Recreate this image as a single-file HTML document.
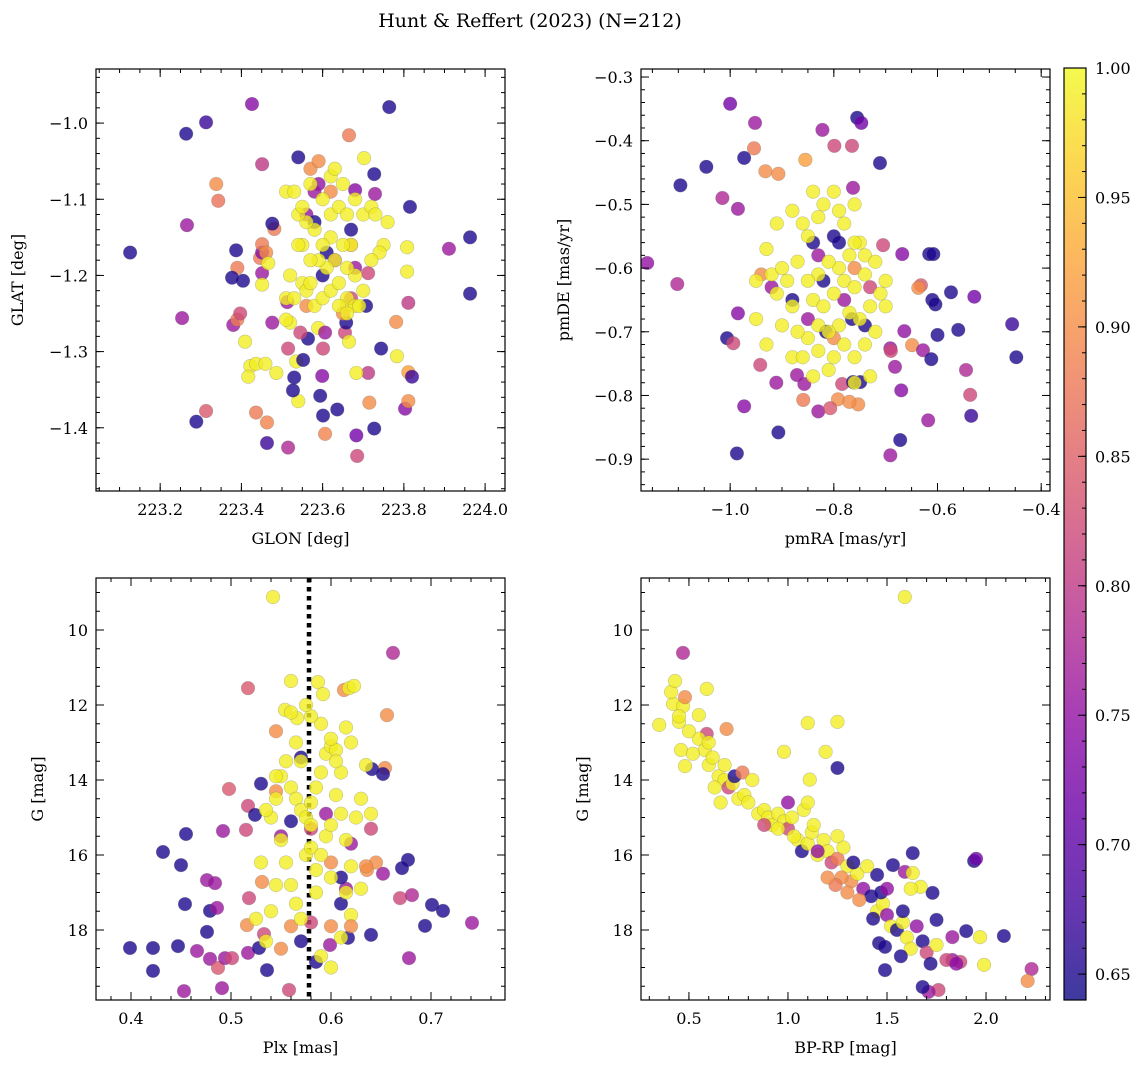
<!DOCTYPE html>
<html><head><meta charset="utf-8">
<style>
html,body{margin:0;padding:0;background:#fff;}
svg{display:block;font-family:"DejaVu Serif","Liberation Serif",serif;}
</style></head>
<body>
<svg id="fig" width="1148" height="1068" viewBox="0 0 1148 1068" xmlns="http://www.w3.org/2000/svg">
<text x="530" y="27" font-size="19" text-anchor="middle">Hunt &amp; Reffert (2023) (N=212)</text>
</svg>
<script>
// ---- data (x, y, membership probability) ----
const glonGlat = [
[223.126,-1.170,.65],[223.426,-0.975,.74],[223.264,-1.014,.65],[223.313,-0.999,.67],[223.764,-0.979,.65],[223.665,-1.016,.88],[223.338,-1.080,.90],[223.343,-1.102,.87],[223.451,-1.054,.80],[223.540,-1.045,.65],[223.266,-1.134,.76],[223.815,-1.110,.65],[223.963,-1.150,.65],[223.911,-1.165,.76],[223.963,-1.224,.65],[223.254,-1.256,.76],[223.313,-1.378,.84],[223.289,-1.392,.65],[223.436,-1.380,.88],[223.463,-1.420,.67],[223.463,-1.393,.89],[223.515,-1.426,.78],[223.606,-1.408,.89],[223.601,-1.384,.65],[223.636,-1.376,.65],[223.685,-1.437,.82],[223.683,-1.410,.72],[223.727,-1.401,.65],[223.594,-1.358,.65],[223.715,-1.367,.90],[223.712,-1.328,.80],[223.803,-1.375,.74],[223.811,-1.365,.90],[223.811,-1.327,.92],[223.820,-1.333,.67],[223.783,-1.306,.99],[223.781,-1.261,.90],[223.811,-1.236,.80],[223.808,-1.195,.99],[223.808,-1.163,.99],[223.727,-1.067,.65],[223.702,-1.046,.99],[223.729,-1.093,.76],[223.680,-1.088,.74],
[223.404,-1.207,.65],[223.380,-1.265,.76],[223.390,-1.258,.88],[223.397,-1.250,.82],[223.409,-1.287,.99],[223.422,-1.319,.99],[223.417,-1.333,.99],[223.436,-1.316,.99],[223.459,-1.316,.99],[223.486,-1.328,.99],[223.540,-1.365,.99],[223.387,-1.167,.65],[223.390,-1.190,.88],[223.377,-1.203,.65],[223.446,-1.177,.88],[223.451,-1.170,.74],[223.451,-1.197,.76],[223.481,-1.139,.88],[223.476,-1.132,.65],[223.451,-1.159,.88],[223.461,-1.170,.90],[223.466,-1.184,.99],[223.451,-1.212,.99],[223.476,-1.262,.76],[223.513,-1.235,.76],[223.520,-1.262,.99],[223.510,-1.258,.99],[223.515,-1.296,.82],[223.535,-1.313,.99],[223.530,-1.334,.65],[223.527,-1.351,.65],[223.552,-1.311,.65],[223.601,-1.296,.82],[223.599,-1.332,.74],[223.564,-1.283,.65],[223.545,-1.275,.82],[223.589,-1.269,.99],[223.606,-1.275,.76],[223.655,-1.275,.82],[223.658,-1.262,.65],[223.660,-1.239,.99],[223.665,-1.287,.99],[223.683,-1.328,.99],[223.707,-1.240,.65],[223.744,-1.296,.65],[223.712,-1.197,.82],
[223.56,-1.12,.75],[223.58,-1.13,.65],[223.60,-1.20,.65],[223.61,-1.17,.65],[223.63,-1.18,.75],[223.67,-1.14,.65],[223.68,-1.19,.76],[223.62,-1.09,.9],[223.59,-1.08,.75],[223.56,-1.24,.9],[223.65,-1.25,.9],[223.67,-1.23,.82],[223.58,-1.09,.76],[223.57,-1.06,.9],[223.59,-1.05,.9],[223.67,-1.16,.9],
[223.51,-1.09,.99],[223.53,-1.09,.99],[223.57,-1.08,.99],[223.62,-1.07,.99],[223.63,-1.06,.99],[223.65,-1.08,.99],[223.60,-1.10,.99],[223.62,-1.12,.99],[223.64,-1.11,.99],[223.66,-1.12,.99],[223.68,-1.10,.99],[223.70,-1.12,.99],[223.72,-1.11,.99],[223.73,-1.12,.99],[223.76,-1.13,.99],[223.75,-1.16,.99],[223.74,-1.17,.99],[223.72,-1.18,.99],[223.68,-1.20,.99],[223.66,-1.19,.99],[223.63,-1.18,.99],[223.61,-1.19,.99],[223.59,-1.18,.99],[223.57,-1.18,.99],[223.55,-1.16,.99],[223.54,-1.16,.99],[223.55,-1.21,.99],[223.56,-1.22,.99],[223.57,-1.21,.99],[223.58,-1.24,.99],[223.60,-1.23,.99],[223.62,-1.22,.99],[223.64,-1.21,.99],[223.66,-1.23,.99],[223.68,-1.24,.99],[223.69,-1.24,.99],[223.70,-1.22,.99],[223.67,-1.16,.99],[223.65,-1.16,.99],[223.62,-1.15,.99],[223.60,-1.16,.99],[223.58,-1.14,.99],[223.56,-1.13,.99],[223.54,-1.12,.99],[223.52,-1.20,.99],[223.51,-1.23,.99],[223.53,-1.23,.99],[223.64,-1.24,.99],[223.66,-1.25,.99],[223.55,-1.11,.99]
];
const pmraPmde = [
[-1.160,-0.592,.75],[-1.096,-0.470,.65],[-1.046,-0.441,.65],[-1.102,-0.625,.78],[-1.0,-0.342,.72],[-0.973,-0.427,.65],[-0.952,-0.372,.76],[-0.954,-0.412,.88],[-0.985,-0.507,.76],[-1.015,-0.490,.78],[-0.932,-0.448,.90],[-0.907,-0.452,.90],[-0.985,-0.671,.74],[-1.006,-0.710,.65],[-0.994,-0.718,.82],[-0.973,-0.817,.74],[-0.987,-0.891,.65],[-0.907,-0.858,.65],[-0.855,-0.430,.92],[-0.822,-0.383,.76],[-0.755,-0.364,.65],[-0.747,-0.372,.72],[-0.799,-0.408,.82],[-0.765,-0.408,.82],[-0.763,-0.474,.76],[-0.711,-0.435,.65],[-0.705,-0.564,.82],[-0.668,-0.578,.74],[-0.616,-0.578,.65],[-0.608,-0.578,.65],[-0.632,-0.627,.84],[-0.637,-0.631,.90],[-0.610,-0.650,.65],[-0.604,-0.657,.65],[-0.574,-0.638,.65],[-0.529,-0.645,.72],[-0.664,-0.699,.75],[-0.600,-0.705,.65],[-0.560,-0.697,.65],[-0.649,-0.721,.90],[-0.691,-0.726,.76],[-0.628,-0.729,.76],[-0.682,-0.755,.76],[-0.612,-0.743,.65],[-0.545,-0.760,.78],[-0.537,-0.799,.82],[-0.670,-0.792,.74],[-0.618,-0.839,.76],[-0.672,-0.870,.65],[-0.691,-0.894,.76],[-0.535,-0.832,.67],[-0.456,-0.688,.67],[-0.448,-0.740,.65],[-0.749,-0.779,.65],[-0.753,-0.814,.90],[-0.792,-0.806,.90],[-0.859,-0.807,.88],[-0.830,-0.825,.76],[-0.807,-0.820,.84],[-0.857,-0.782,.76],[-0.911,-0.780,.76],[-0.871,-0.768,.76],[-0.942,-0.752,.82],[-0.784,-0.782,.82],[-0.815,-0.700,.65],[-0.765,-0.680,.65],[-0.763,-0.779,.65],
[-0.84,-0.56,.65],[-0.80,-0.55,.65],[-0.79,-0.56,.65],[-0.88,-0.65,.65],[-0.85,-0.68,.76],[-0.80,-0.71,.9],[-0.76,-0.60,.9],[-0.73,-0.63,.82],[-0.78,-0.65,.76],[-0.92,-0.63,.76],[-0.94,-0.61,.9],[-0.83,-0.58,.76],[-0.74,-0.69,.65],[-0.82,-0.62,.65],[-0.77,-0.81,.9],[-0.69,-0.73,.82],
[-0.93,-0.57,.99],[-0.92,-0.61,.99],[-0.90,-0.60,.99],[-0.91,-0.64,.99],[-0.89,-0.62,.99],[-0.87,-0.59,.99],[-0.86,-0.53,.99],[-0.85,-0.55,.99],[-0.83,-0.52,.99],[-0.82,-0.50,.99],[-0.80,-0.48,.99],[-0.79,-0.51,.99],[-0.78,-0.53,.99],[-0.76,-0.50,.99],[-0.75,-0.56,.99],[-0.74,-0.58,.99],[-0.77,-0.58,.99],[-0.79,-0.60,.99],[-0.81,-0.59,.99],[-0.83,-0.61,.99],[-0.85,-0.62,.99],[-0.84,-0.65,.99],[-0.82,-0.66,.99],[-0.80,-0.64,.99],[-0.78,-0.62,.99],[-0.76,-0.63,.99],[-0.74,-0.61,.99],[-0.72,-0.59,.99],[-0.71,-0.64,.99],[-0.73,-0.66,.99],[-0.75,-0.68,.99],[-0.77,-0.67,.99],[-0.79,-0.69,.99],[-0.81,-0.70,.99],[-0.83,-0.69,.99],[-0.85,-0.71,.99],[-0.87,-0.70,.99],[-0.88,-0.74,.99],[-0.86,-0.74,.99],[-0.83,-0.73,.99],[-0.80,-0.74,.99],[-0.78,-0.72,.99],[-0.76,-0.74,.99],[-0.74,-0.72,.99],[-0.72,-0.70,.99],[-0.70,-0.66,.99],[-0.70,-0.62,.99],[-0.73,-0.77,.99],[-0.76,-0.78,.99],[-0.81,-0.76,.99],[-0.84,-0.77,.99],[-0.88,-0.66,.99],[-0.90,-0.69,.99],[-0.93,-0.72,.99],[-0.95,-0.68,.99],[-0.95,-0.62,.99],[-0.91,-0.53,.99],[-0.88,-0.51,.99],[-0.84,-0.48,.99],[-0.76,-0.56,.99]
];
const plxG = [
[0.399,18.48,.65],[0.422,18.48,.65],[0.422,19.09,.65],[0.447,18.43,.65],[0.432,15.92,.65],[0.455,15.44,.65],[0.450,16.27,.65],[0.454,17.31,.65],[0.453,19.63,.76],[0.466,18.56,.76],[0.479,17.49,.65],[0.476,16.67,.76],[0.479,18.77,.76],[0.476,18.05,.65],[0.487,19.01,.84],[0.494,18.75,.76],[0.491,19.55,.76],[0.484,16.75,.76],[0.486,17.41,.76],[0.501,18.75,.82],[0.492,15.36,.76],[0.498,14.24,.84],[0.515,15.33,.82],[0.517,14.69,.82],[0.517,11.55,.84],[0.524,14.93,.65],[0.518,17.15,.82],[0.516,17.87,.9],[0.517,18.61,.76],[0.528,18.48,.65],[0.533,18.11,.82],[0.536,19.07,.65],[0.558,19.60,.82],[0.531,16.72,.9],[0.542,9.12,.99],[0.554,12.13,.99],[0.560,11.36,.99],[0.566,12.35,.99],[0.587,11.39,.99],[0.592,11.71,.99],[0.613,11.60,.9],[0.618,11.55,.99],[0.623,11.49,.99],[0.656,12.27,.9],[0.654,13.68,.9],[0.662,10.61,.78],[0.641,13.71,.65],[0.652,13.84,.65],[0.677,16.13,.65],[0.671,16.35,.65],[0.669,17.15,.82],[0.681,17.07,.78],[0.678,18.75,.76],[0.701,17.33,.65],[0.694,17.89,.65],[0.712,17.49,.65],[0.741,17.81,.76],[0.640,18.13,.65],[0.617,18.21,.65],[0.599,18.40,.76],[0.585,18.85,.65],[0.610,17.30,.65],[0.615,16.90,.76],[0.652,16.50,.76],[0.645,16.20,.9],[0.636,16.40,.9],
[0.57,13.4,.65],[0.56,15.1,.65],[0.55,15.5,.76],[0.58,15.3,.82],[0.595,14.9,.76],[0.60,16.2,.9],[0.61,16.6,.65],[0.58,17.8,.82],[0.57,18.3,.65],[0.55,18.5,.9],[0.60,17.9,.9],[0.53,14.1,.65],[0.545,14.3,.9],[0.62,15.7,.76],[0.635,16.3,.9],[0.64,15.3,.82],[0.545,12.7,.9],[0.56,17.9,.9],
[0.55,13.9,.99],[0.56,14.2,.99],[0.565,14.5,.99],[0.57,14.8,.99],[0.575,15.0,.99],[0.58,14.6,.99],[0.585,14.2,.99],[0.59,13.8,.99],[0.595,13.3,.99],[0.60,13.1,.99],[0.605,13.2,.99],[0.61,13.8,.99],[0.615,12.6,.99],[0.62,13.0,.99],[0.60,12.9,.99],[0.59,12.5,.99],[0.58,12.3,.99],[0.575,12.0,.99],[0.565,13.0,.99],[0.555,13.5,.99],[0.545,14.5,.99],[0.54,15.0,.99],[0.535,14.8,.99],[0.55,15.6,.99],[0.555,16.2,.99],[0.56,16.8,.99],[0.565,17.3,.99],[0.57,17.7,.99],[0.575,16.0,.99],[0.58,15.8,.99],[0.585,16.4,.99],[0.59,16.0,.99],[0.595,15.5,.99],[0.60,15.2,.99],[0.605,14.4,.99],[0.61,14.9,.99],[0.615,15.6,.99],[0.62,16.3,.99],[0.625,15.0,.99],[0.63,14.5,.99],[0.635,13.6,.99],[0.64,14.9,.99],[0.63,16.9,.99],[0.62,17.6,.99],[0.61,18.2,.99],[0.585,17.0,.99],[0.59,18.7,.99],[0.56,12.2,.99],[0.545,16.8,.99],[0.54,17.5,.99],[0.53,16.2,.99],[0.525,17.7,.99],[0.57,13.5,.99],[0.58,15.2,.99],[0.60,16.6,.99],[0.615,17.0,.99],[0.605,13.5,.99],[0.545,13.9,.99],[0.535,18.3,.99],[0.60,19.0,.99],[0.62,17.9,.9]
];
const bprpG = [
[0.35,12.53,.99],[0.42,11.97,.99],[0.41,11.65,.99],[0.43,11.36,.99],[0.47,12.03,.99],[0.48,11.79,.9],[0.47,10.61,.78],[0.45,12.45,.99],[0.46,13.20,.99],[0.48,13.63,.99],[0.59,11.57,.99],[0.55,12.27,.99],[0.59,12.77,.82],[0.69,12.64,.9],[1.10,12.48,.99],[1.11,13.99,.99],[1.19,13.25,.99],[1.25,12.45,.99],[1.25,13.68,.65],[0.98,13.25,.99],[1.59,9.12,.99],
[1.94,16.16,.65],[1.95,16.10,.72],[2.09,18.16,.65],[2.23,19.04,.78],[2.21,19.36,.9],[1.99,18.93,.99],[1.97,18.19,.99],[1.90,18.03,.65],[1.87,18.85,.82],[1.83,18.80,.76],[1.76,19.60,.82],[1.71,19.65,.76],[1.68,19.52,.65],[1.83,18.19,.76],[1.75,17.73,.65],[1.73,17.01,.65],[1.63,15.95,.65],[1.59,16.45,.76],[1.67,16.85,.99],[1.63,16.48,.99],[1.53,16.27,.65],[1.45,16.53,.65],[1.46,18.35,.65],[1.49,18.45,.65],[1.49,19.07,.65],
[0.55,12.9,.99],[0.58,13.2,.99],[0.60,13.6,.99],[0.62,13.4,.99],[0.65,13.9,.99],[0.68,14.0,.99],[0.70,14.2,.82],[0.72,14.1,.99],[0.75,14.5,.99],[0.78,14.4,.99],[0.80,14.6,.99],[0.73,13.9,.65],[0.77,13.8,.88],[0.85,14.9,.99],[0.88,14.8,.99],[0.90,15.0,.99],[0.92,15.2,.99],[0.95,14.9,.99],[0.98,15.1,.99],[1.00,15.3,.82],[1.02,15.0,.99],[1.05,15.6,.99],[1.07,15.9,.65],[1.10,15.7,.99],[1.12,15.4,.99],[1.15,16.0,.99],[1.18,15.6,.99],[1.20,15.9,.99],[1.22,16.2,.82],[1.25,16.1,.88],[1.28,15.8,.99],[1.30,16.3,.99],[1.32,16.7,.9],[1.35,16.5,.99],[1.38,16.9,.75],[1.40,16.3,.99],[1.42,17.1,.65],[1.45,17.5,.99],[1.48,17.3,.99],[1.50,17.6,.75],[1.52,17.9,.99],[1.55,18.0,.65],[1.58,17.8,.99],[1.60,18.2,.99],[1.62,18.5,.99],[1.65,17.9,.75],[1.68,18.3,.65],[1.70,18.6,.82],[1.72,18.9,.65],[1.75,18.4,.99],[1.80,18.8,.82],[1.85,18.9,.75],[1.27,16.6,.9],[1.24,16.8,.88],[1.20,16.6,.9],[1.13,15.2,.99],[1.08,14.8,.99],[0.95,15.3,.99],[0.88,15.2,.82],[1.00,14.6,.75],[1.03,15.5,.99],[1.15,15.9,.75],[1.33,16.2,.65],[1.36,17.2,.9],[1.30,17.0,.9],[1.47,17.0,.65],[1.50,16.9,.75],[1.43,17.7,.65],[1.58,17.5,.65],[1.62,16.9,.99],[1.57,18.7,.65],[1.25,15.5,.99],[1.10,14.6,.99],[0.82,14.0,.99],[0.68,13.6,.99],[0.60,13.0,.99],[0.50,12.7,.99],[0.45,12.3,.99],[0.52,13.3,.99],[0.63,14.2,.99],[0.66,14.6,.99]
];
// tick labels
const glonTicks = [223.2,223.4,223.6,223.8,224.0];
const glatTicks = [-1.0,-1.1,-1.2,-1.3,-1.4];
const pmraTicks = [-1.0,-0.8,-0.6,-0.4];
const pmdeTicks = [-0.3,-0.4,-0.5,-0.6,-0.7,-0.8,-0.9];
const plxTicks = [0.4,0.5,0.6,0.7];
const bprpTicks = [0.5,1.0,1.5,2.0];
const gTicks = [10,12,14,16,18];
const colorTicks = [0.65,0.70,0.75,0.80,0.85,0.90,0.95,1.00];
const plxMedian = 0.578;
const vmin = 0.640, vmax = 1.0;

const NS = "http://www.w3.org/2000/svg";
const svg = document.getElementById('fig');
function mk(tag, attrs, parent){ const e=document.createElementNS(NS,tag); for(const k in attrs) e.setAttribute(k,attrs[k]); (parent||svg).appendChild(e); return e; }

const stops=[[0,[13,8,135]],[.1,[65,4,157]],[.2,[106,0,168]],[.3,[143,13,164]],[.4,[177,42,144]],[.5,[204,71,120]],[.6,[225,100,98]],[.7,[242,132,75]],[.8,[252,166,54]],[.9,[252,206,37]],[1,[240,249,33]]];
function plasma(t){ t=Math.max(0,Math.min(1,t)); for(let i=1;i<stops.length;i++){ if(t<=stops[i][0]){ const a=stops[i-1],b=stops[i]; const f=(t-a[0])/(b[0]-a[0]); const c=a[1].map((v,j)=>Math.round(v+(b[1][j]-v)*f)); return `rgb(${c[0]},${c[1]},${c[2]})`; } } return 'rgb(240,249,33)'; }
const fmt = (v,d)=> (v<0?'\u2212':'')+Math.abs(v).toFixed(d);

function panel(o){
  const g = mk('g',{});
  
  
  const sx=v=>o.L+(v-o.xmin)/(o.xmax-o.xmin)*(o.R-o.L);
  const sy=v=>o.B-(v-o.ymin)/(o.ymax-o.ymin)*(o.B-o.T);
  const clip = mk('clipPath',{id:'c'+o.name},g); mk('rect',{x:o.L,y:o.T,width:o.R-o.L,height:o.B-o.T},clip);
  const pts = mk('g',{'clip-path':`url(#c${o.name})`},g);
  if(o.vline!==undefined){
    const l=mk('line',{x1:sx(o.vline),x2:sx(o.vline),y1:o.T,y2:o.B,stroke:'#000','stroke-width':4.5,'stroke-dasharray':'4.5,4.5'},pts);
    
    
  }
  o.data.forEach(d=>{
    const c=mk('circle',{cx:sx(d[0]),cy:sy(d[1]),r:6.8,fill:plasma((d[2]-vmin)/(vmax-vmin)),'fill-opacity':0.8,stroke:'#666','stroke-opacity':0.35,'stroke-width':0.6},pts);
    
    
  });
  mk('rect',{x:o.L,y:o.T,width:o.R-o.L,height:o.B-o.T,fill:'none',stroke:'#000','stroke-width':1.2},g);
  for(let v=Math.ceil(Math.min(o.xmin,o.xmax)/o.xminor-1e-9)*o.xminor; v<=Math.max(o.xmin,o.xmax)+1e-9; v+=o.xminor){
    const x=sx(v); mk('line',{x1:x,x2:x,y1:o.B,y2:o.B-4,stroke:'#000'},g); mk('line',{x1:x,x2:x,y1:o.T,y2:o.T+4,stroke:'#000'},g);
  }
  for(let v=Math.ceil(Math.min(o.ymin,o.ymax)/o.yminor-1e-9)*o.yminor; v<=Math.max(o.ymin,o.ymax)+1e-9; v+=o.yminor){
    const y=sy(v); mk('line',{x1:o.L,x2:o.L+4,y1:y,y2:y,stroke:'#000'},g); mk('line',{x1:o.R,x2:o.R-4,y1:y,y2:y,stroke:'#000'},g);
  }
  o.xt.forEach(v=>{ const x=sx(v);
    mk('line',{x1:x,x2:x,y1:o.B,y2:o.B-8,stroke:'#000'},g); mk('line',{x1:x,x2:x,y1:o.T,y2:o.T+8,stroke:'#000'},g);
    const t=mk('text',{x:x,y:o.B+24,'font-size':16,'text-anchor':'middle'},g); t.textContent=fmt(v,o.xd);
     
  });
  o.yt.forEach(v=>{ const y=sy(v);
    mk('line',{x1:o.L,x2:o.L+8,y1:y,y2:y,stroke:'#000'},g); mk('line',{x1:o.R,x2:o.R-8,y1:y,y2:y,stroke:'#000'},g);
    const t=mk('text',{x:o.L-8,y:y+6,'font-size':16,'text-anchor':'end'},g); t.textContent=fmt(v,o.yd);
     
  });
  const xl=mk('text',{x:(o.L+o.R)/2,y:o.B+53,'font-size':16,'text-anchor':'middle'},g); xl.textContent=o.xlabel;
   
  const yx=o.L-o.ylOff, yy=(o.T+o.B)/2;
  const yl=mk('text',{x:yx,y:yy,'font-size':16,'text-anchor':'middle',transform:`rotate(-90 ${yx} ${yy})`},g); yl.textContent=o.ylabel;
   
}

panel({name:'glon-glat-panel',L:96,R:505,T:69,B:491,xmin:223.042,xmax:224.049,ymin:-1.483,ymax:-0.929,xminor:0.05,yminor:0.02,xt:glonTicks,yt:glatTicks,xd:1,yd:1,data:glonGlat,xlabel:'GLON [deg]',ylabel:'GLAT [deg]',ylOff:73});
panel({name:'pm-panel',L:641,R:1050,T:69,B:491,xmin:-1.172,xmax:-0.383,ymin:-0.950,ymax:-0.2874,xminor:0.05,yminor:0.02,xt:pmraTicks,yt:pmdeTicks,xd:1,yd:1,data:pmraPmde,xlabel:'pmRA [mas/yr]',ylabel:'pmDE [mas/yr]',ylOff:72});
panel({name:'plx-g-panel',L:96,R:505,T:578,B:1000,xmin:0.365,xmax:0.774,ymin:19.867,ymax:8.613,xminor:0.02,yminor:0.5,xt:plxTicks,yt:gTicks,xd:1,yd:0,data:plxG,xlabel:'Plx [mas]',ylabel:'G [mag]',ylOff:53,vline:plxMedian});
panel({name:'cmd-panel',L:641,R:1050,T:578,B:1000,xmin:0.258,xmax:2.323,ymin:19.867,ymax:8.613,xminor:0.1,yminor:0.5,xt:bprpTicks,yt:gTicks,xd:1,yd:0,data:bprpG,xlabel:'BP-RP [mag]',ylabel:'G [mag]',ylOff:53});

// colorbar
(function(){
  const T=68,B=1000,L=1064,R=1086;
  const cb=mk('g',{});
  
  
  const defs=mk('defs',{},cb);
  const lg=mk('linearGradient',{id:'cbg',x1:0,y1:1,x2:0,y2:0},defs);
  stops.forEach(s=>mk('stop',{offset:s[0],'stop-color':`rgb(${s[1].join(',')})`},lg));
  mk('rect',{x:L,y:T,width:R-L,height:B-T,fill:'url(#cbg)','fill-opacity':0.8},cb);
  mk('rect',{x:L,y:T,width:R-L,height:B-T,fill:'none',stroke:'#000','stroke-width':1.2},cb);
  const sy=v=>B-(v-vmin)/(vmax-vmin)*(B-T);
  for(let v=0.65; v<=1.0001; v+=0.01){ const y=sy(v); mk('line',{x1:R,x2:R-4,y1:y,y2:y,stroke:'#000'},cb); }
  colorTicks.forEach(v=>{ const y=sy(v);
    mk('line',{x1:R,x2:R-8,y1:y,y2:y,stroke:'#000'},cb);
    const t=mk('text',{x:R+9,y:y+6,'font-size':16},cb); t.textContent=v.toFixed(2);
     
  });
})();
</script>
</body></html>
